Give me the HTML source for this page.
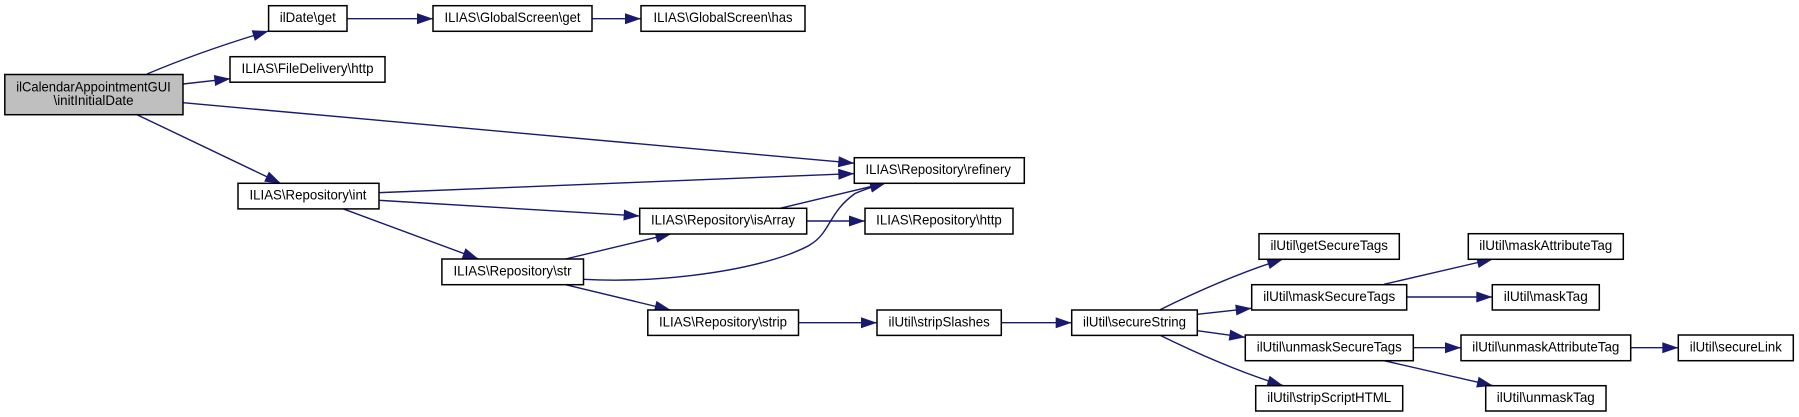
<!DOCTYPE html>
<html><head><meta charset="utf-8"><title>ilCalendarAppointmentGUI\initInitialDate call graph</title>
<style>
html,body{margin:0;padding:0;background:#fff;width:1799px;height:417px;overflow:hidden}
svg{display:block;filter:blur(0.3px)}
rect{fill:#fff;stroke:#000;stroke-width:1.5}
rect.r{fill:#bfbfbf}
path{fill:none;stroke:#191970;stroke-width:1.4;marker-end:url(#a)}
text{font-family:"Liberation Sans",sans-serif;font-size:14px;fill:#000;text-anchor:middle}
</style></head><body>
<svg xmlns="http://www.w3.org/2000/svg" width="1799" height="417" viewBox="0 0 1799 417">
<defs><marker id="a" markerUnits="userSpaceOnUse" markerWidth="18" markerHeight="13" refX="16.5" refY="6.5" orient="auto" overflow="visible"><polygon points="0.5,1 16.5,6.5 0.5,12" fill="#191970"/></marker></defs>

<path d="M147,74C185,58 225,44 268.6,31"/>
<path d="M347,18.7L433,18.7"/>
<path d="M592,18.7L641,18.7"/>
<path d="M183,84L230.4,78.7"/>
<path d="M183,102.7L854.3,163.2"/>
<path d="M137,114.7L281,183.5"/>
<path d="M378,192.7L854.3,173.6"/>
<path d="M378.7,200.3L639.7,216"/>
<path d="M342.7,208.7L478.6,259"/>
<path d="M565.5,259L671.5,233.7"/>
<path d="M780,208.3L886,182.9"/>
<path d="M806.7,221L865,221"/>
<path d="M583.5,279.3C650,283 735,274 790,254C805,248 815,244 823,233C832,221 835,208 855,193.5C865,189 875,186 886,182.9"/>
<path d="M565.5,284.7L670.7,310"/>
<path d="M798.5,322.7L877,322.7"/>
<path d="M1001.3,322.7L1071.7,322.7"/>
<path d="M1160,309.7C1190,295 1235,274 1283.3,259"/>
<path d="M1197.3,314.3L1251.7,308.3"/>
<path d="M1197.3,330.7L1245.3,337.3"/>
<path d="M1160,335.3C1190,350 1235,371 1283.3,385.7"/>
<path d="M1384,284.3L1493,259"/>
<path d="M1406.7,297L1492.3,297"/>
<path d="M1413.3,347.7L1461,347.7"/>
<path d="M1630.7,347.7L1678.3,347.7"/>
<path d="M1384,360.7L1493,385.7"/>

<rect class="r" x="4.8" y="74.5" width="178.2" height="40.2"/>
<text x="93.5" y="91.5" textLength="154.5" lengthAdjust="spacingAndGlyphs">ilCalendarAppointmentGUI</text>
<text x="93.5" y="105" textLength="80" lengthAdjust="spacingAndGlyphs">\initInitialDate</text>

<rect x="268.6" y="5.7" width="78.4" height="25.6"/><text x="307.8" y="22" textLength="56" lengthAdjust="spacingAndGlyphs">ilDate\get</text>
<rect x="433" y="5.7" width="159" height="25.6"/><text x="512.5" y="22" textLength="136" lengthAdjust="spacingAndGlyphs">ILIAS\GlobalScreen\get</text>
<rect x="641" y="5.7" width="164" height="25.6"/><text x="723" y="22" textLength="139" lengthAdjust="spacingAndGlyphs">ILIAS\GlobalScreen\has</text>
<rect x="230" y="56.7" width="155" height="25.5"/><text x="307.5" y="73" textLength="132" lengthAdjust="spacingAndGlyphs">ILIAS\FileDelivery\http</text>
<rect x="238" y="183.3" width="141" height="25.6"/><text x="308" y="199.5" textLength="117" lengthAdjust="spacingAndGlyphs">ILIAS\Repository\int</text>
<rect x="854.3" y="157.7" width="170" height="25.6"/><text x="938.2" y="174" textLength="145.4" lengthAdjust="spacingAndGlyphs">ILIAS\Repository\refinery</text>
<rect x="639.7" y="208.3" width="167" height="25.7"/><text x="723" y="224.7" textLength="144" lengthAdjust="spacingAndGlyphs">ILIAS\Repository\isArray</text>
<rect x="865" y="208.3" width="148" height="25.7"/><text x="939" y="224.7" textLength="125.7" lengthAdjust="spacingAndGlyphs">ILIAS\Repository\http</text>
<rect x="441.9" y="259" width="141.6" height="25.7"/><text x="512.5" y="275.3" textLength="118" lengthAdjust="spacingAndGlyphs">ILIAS\Repository\str</text>
<rect x="647.8" y="310" width="150.7" height="25.4"/><text x="723" y="326.3" textLength="128" lengthAdjust="spacingAndGlyphs">ILIAS\Repository\strip</text>
<rect x="877" y="310" width="124.3" height="25.4"/><text x="939.2" y="326.3" textLength="101.3" lengthAdjust="spacingAndGlyphs">ilUtil\stripSlashes</text>
<rect x="1071.7" y="310" width="125.6" height="25.4"/><text x="1134.5" y="326.3" textLength="103" lengthAdjust="spacingAndGlyphs">ilUtil\secureString</text>
<rect x="1259" y="233.7" width="140.3" height="25.6"/><text x="1329.2" y="250" textLength="117.5" lengthAdjust="spacingAndGlyphs">ilUtil\getSecureTags</text>
<rect x="1251.7" y="284.7" width="155" height="25.3"/><text x="1329.2" y="301" textLength="132" lengthAdjust="spacingAndGlyphs">ilUtil\maskSecureTags</text>
<rect x="1245.3" y="335" width="168" height="25.7"/><text x="1329.3" y="351.3" textLength="145" lengthAdjust="spacingAndGlyphs">ilUtil\unmaskSecureTags</text>
<rect x="1255.7" y="385.7" width="147" height="25.3"/><text x="1329.2" y="402" textLength="124" lengthAdjust="spacingAndGlyphs">ilUtil\stripScriptHTML</text>
<rect x="1468.3" y="233.7" width="155" height="25.6"/><text x="1545.8" y="250" textLength="133" lengthAdjust="spacingAndGlyphs">ilUtil\maskAttributeTag</text>
<rect x="1492.3" y="284.7" width="107" height="25.3"/><text x="1545.8" y="301" textLength="84" lengthAdjust="spacingAndGlyphs">ilUtil\maskTag</text>
<rect x="1461" y="335" width="169.7" height="25.7"/><text x="1545.8" y="351.3" textLength="147" lengthAdjust="spacingAndGlyphs">ilUtil\unmaskAttributeTag</text>
<rect x="1678.3" y="335" width="115" height="25.7"/><text x="1735.8" y="351.3" textLength="92" lengthAdjust="spacingAndGlyphs">ilUtil\secureLink</text>
<rect x="1485.7" y="385.7" width="120.3" height="25.3"/><text x="1545.8" y="402" textLength="98" lengthAdjust="spacingAndGlyphs">ilUtil\unmaskTag</text>
</svg>
</body></html>
